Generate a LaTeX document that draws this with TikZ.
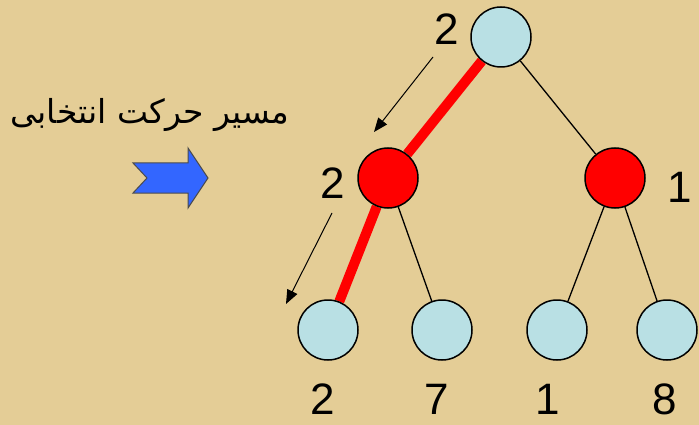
\documentclass[tikz,border=0pt]{standalone}
\usepackage{fontspec}
\setmainfont{Liberation Sans}
\newfontfamily\arabicfont[Script=Arabic]{DejaVu Sans}
\TeXXeTstate=1
\usetikzlibrary{arrows.meta, positioning, backgrounds}
\definecolor{cpaper}{RGB}{228,205,150}
\definecolor{cleaf}{RGB}{185,224,228}
\definecolor{cpick}{RGB}{255,0,0}
\definecolor{cblue}{RGB}{51,102,255}
\tikzset{
  every picture/.style={x=1pt, y=-1pt, line width=1.2pt},
  vert/.style={circle, draw=black, fill=#1, minimum size=60pt, inner sep=0pt, line width=1.5pt},
  vert/.default=cleaf,
  edge/.style={draw=black, line width=1.3pt},
  chosen/.style={draw=cpick, line width=10pt},
  pointer/.style={-{Triangle[length=14pt, width=11pt]}, draw=black, line width=1pt},
  num/.style={font=\fontsize{44}{44}\selectfont, inner sep=0pt},
}

\begin{document}
\begin{tikzpicture}
  \useasboundingbox (0,0) rectangle (699,425);
  % the tree: max on top, min in the middle, leaves below
  \node[vert] (root) at (501,37) {};
  \node[vert=cpick] (mina) at (388,178) {};
  \node[vert=cpick] (minb) at (615,178) {};
  \node[vert] (leafa) at (328,330) {};
  \node[vert] (leafb) at (442,330) {};
  \node[vert] (leafc) at (557,330) {};
  \node[vert] (leafd) at (667,330) {};
  % values
  \node[num] (vroot) at (447,29) {2};
  \node[num] (vmina) at (333,183) {2};
  \node[num] (vminb) at (680,187) {1};
  \node[num] (va) at (323,399) {2};
  \node[num] (vb) at (437,399) {7};
  \node[num] (vc) at (548,399) {1};
  \node[num] (vd) at (665,399) {8};
  \begin{scope}[on background layer]
    \fill[cpaper] (0,0) rectangle (699,425);
    \draw[chosen] (root) -- (mina);
    \draw[chosen] (mina) -- (leafa);
    \draw[edge] (root) -- (minb);
    \draw[edge] (mina) -- (leafb);
    \draw[edge] (minb) -- (leafc);
    \draw[edge] (minb) -- (leafd);
  \end{scope}
  % the value is passed down along the chosen path
  \coordinate (pa) at (433,57);
  \coordinate (pb) at (374,132);
  \coordinate (pc) at (332,213);
  \coordinate (pd) at (286,304);
  \draw[pointer] (pa) -- (pb);
  \draw[pointer] (pc) -- (pd);
  % caption and block arrow on the left
  \node[font=\arabicfont\fontsize{33}{33}\selectfont, inner sep=0pt] (path) at (150,115) {\beginR مسیر حرکت انتخابی\endR};
  \draw[fill=cblue, draw=black!70, line width=1pt]
    (133,163) -- (188,163) -- (188,148) -- (208,178) -- (188,208) -- (188,193) -- (133,193) -- (147,178) -- cycle;
\end{tikzpicture}
\end{document}
